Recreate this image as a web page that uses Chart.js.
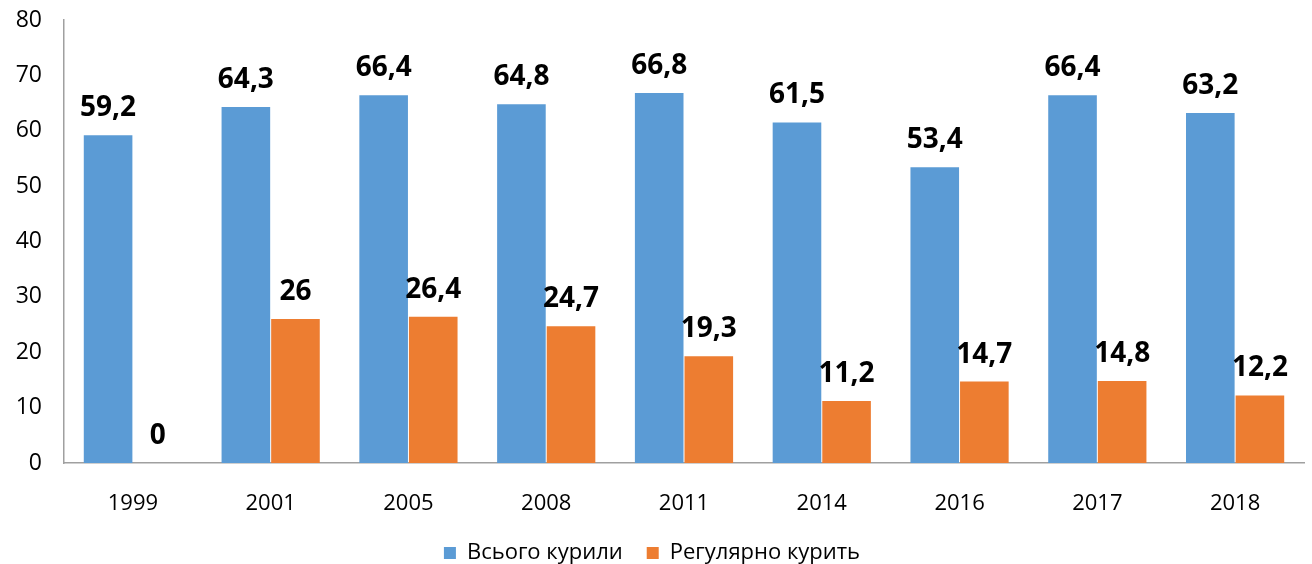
<!DOCTYPE html>
<html>
<head>
<meta charset="utf-8">
<script src="https://cdn.jsdelivr.net/npm/chart.js@4.4.0/dist/chart.umd.min.js"></script>
<style>
  html, body { margin: 0; padding: 0; background: #fff; }
  #wrap { width: 1312px; height: 564px; }
</style>
</head>
<body>
<div id="wrap"><canvas id="smokeChart"></canvas></div>
<script>
        const years = ['1999', '2001', '2005', '2008', '2011', '2014', '2016', '2017', '2018'];
        const totalSmoked = [59.2, 64.3, 66.4, 64.8, 66.8, 61.5, 53.4, 66.4, 63.2];
        const regularSmokers = [0, 26, 26.4, 24.7, 19.3, 11.2, 14.7, 14.8, 12.2];
        const seriesNames = ['Всього курили', 'Регулярно курить'];

        const FONT = "'Open Sans', 'DejaVu Sans', sans-serif";

        // draws the bold value over each bar (comma as decimal separator)
        const valueLabels = {
            id: 'valueLabels',
            afterDatasetsDraw(chart) {
                const ctx = chart.ctx;
                ctx.save();
                ctx.font = 'bold 28px ' + FONT;
                ctx.fillStyle = '#000';
                ctx.textAlign = 'center';
                ctx.textBaseline = 'alphabetic';
                chart.data.datasets.forEach(function (ds, i) {
                    chart.getDatasetMeta(i).data.forEach(function (bar, j) {
                        const txt = String(ds.data[j]).replace('.', ',');
                        ctx.fillText(txt, bar.x, bar.y - 19);
                    });
                });
                ctx.restore();
            }
        };

        const ctx = document.getElementById('smokeChart').getContext('2d');
        new Chart(ctx, {
            type: 'bar',
            data: {
                labels: years,
                datasets: [
                    {
                        label: seriesNames[0],
                        data: totalSmoked,
                        backgroundColor: '#5B9BD5',
                        categoryPercentage: 0.72,
                        barPercentage: 0.98
                    },
                    {
                        label: seriesNames[1],
                        data: regularSmokers,
                        backgroundColor: '#ED7D31',
                        categoryPercentage: 0.72,
                        barPercentage: 0.98
                    }
                ]
            },
            options: {
                responsive: true,
                maintainAspectRatio: false,
                animation: false,
                layout: { padding: { top: 20, right: 8, left: 0, bottom: -10 } },
                scales: {
                    y: {
                        min: 0,
                        max: 80,
                        ticks: {
                            stepSize: 10,
                            color: '#000',
                            font: { family: FONT, size: 23 },
                            padding: 14
                        },
                        grid: { display: false },
                        border: { color: '#a0a0a0', width: 1.5 },
                        afterFit: function (scale) {
                            scale.width = 64;
                            scale.paddingTop = 0;
                            scale.paddingBottom = 0;
                        }
                    },
                    x: {
                        ticks: {
                            color: '#000',
                            font: { family: FONT, size: 22 },
                            padding: 20
                        },
                        grid: { display: false },
                        border: { color: '#a0a0a0', width: 1.5 },
                        afterFit: function (scale) { scale.height = 55; }
                    }
                },
                plugins: {
                    legend: {
                        position: 'bottom',
                        labels: {
                            color: '#000',
                            font: { family: FONT, size: 22 },
                            boxWidth: 12,
                            boxHeight: 12,
                            padding: 24
                        }
                    },
                    tooltip: { enabled: false }
                }
            },
            plugins: [valueLabels]
        });
</script>
</body>
</html>
